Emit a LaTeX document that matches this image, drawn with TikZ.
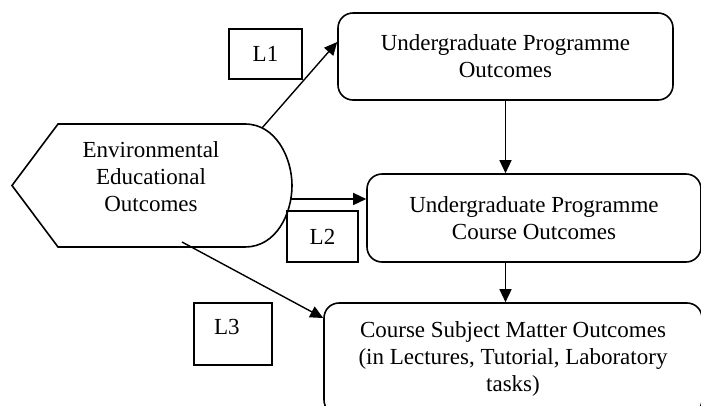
\documentclass[tikz,border=0pt]{standalone}
\usepackage{fontspec}
\setmainfont{Liberation Serif}
\usetikzlibrary{arrows.meta,positioning,calc}

\tikzset{
  >={Triangle[length=13pt,width=12pt]},
  outbox/.style={draw,rectangle,rounded corners=15pt,line width=1.6pt,align=center,inner sep=0pt},
  lbox/.style={draw,rectangle,line width=1.5pt,inner sep=0pt},
  flow/.style={->,line width=1.4pt},
}

\begin{document}
\begin{tikzpicture}[x=1pt,y=-1pt,font=\fontsize{23}{27}\selectfont]
    \useasboundingbox (0,0) rectangle (701,405);
    % environmental outcomes (display shape)
    \draw[line width=1.6pt] (12,185.5) -- (58,124) -- (245,124)
        .. controls (276,124) and (292,158) .. (292,185.5)
        .. controls (292,214) and (276,247) .. (245,247) -- (58,247) -- cycle;
    \path
        (151,177)     node[align=center] (env){Environmental\\Educational\\Outcomes}
        (262,128)     coordinate (envtop)
        (291,199)     coordinate (envright)
        (182,242)     coordinate (envbot)
        ;
    \path
        (505.5,56.5)  node[outbox,minimum width=335pt,minimum height=87pt] (ugpo){Undergraduate Programme\\Outcomes}
        (534,218)     node[outbox,minimum width=334pt,minimum height=88pt] (ugco){Undergraduate Programme\\Course Outcomes}
        (513,359)     node[outbox,minimum width=378pt,minimum height=112pt] (csmo){Course Subject Matter Outcomes\\(in Lectures, Tutorial, Laboratory\\tasks)}
        ;
    \path
        (265.5,54)    node[lbox,minimum width=73pt,minimum height=50pt] (l1){L1}
        (322.5,236.5) node[lbox,minimum width=71pt,minimum height=51pt] (l2){L2}
        (233,334)     node[lbox,minimum width=78pt,minimum height=62pt,text width=38pt,inner xsep=20pt,align=left,text depth=14pt] (l3){L3}
        ;
    \draw [flow] (envtop)--([yshift=14.5pt]ugpo.west);
    \draw [flow] (envright)--(envright -| ugco.west);
    \draw [flow] (envbot)--([yshift=41pt]csmo.west);
    \draw [flow] (ugpo.south)--(ugpo.south |- ugco.north);
    \draw [flow] (ugpo.south |- ugco.south)--(ugpo.south |- csmo.north);
\end{tikzpicture}
\end{document}
